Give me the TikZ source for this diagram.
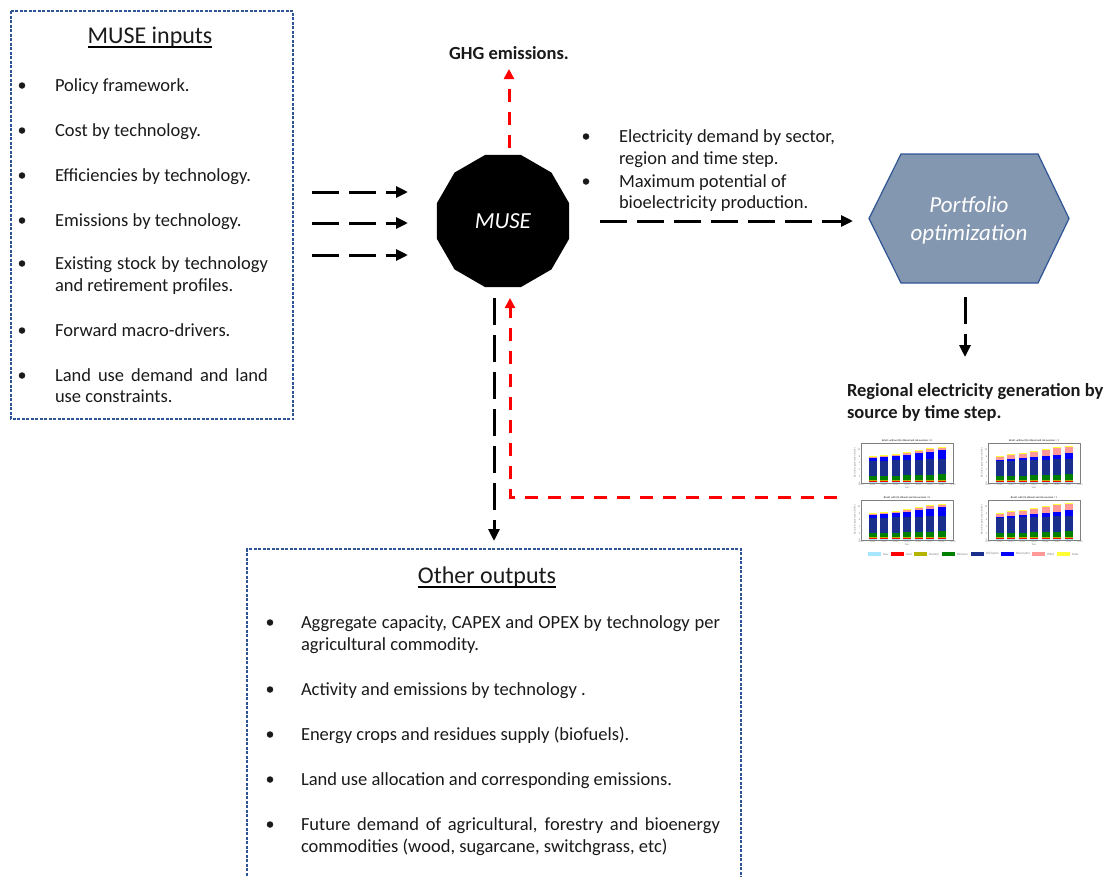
\documentclass[tikz,border=0pt]{standalone}
\usepackage{fontspec}
\setmainfont{Carlito}
\usetikzlibrary{arrows.meta,calc,shapes.geometric}
\definecolor{boxblue}{HTML}{2F5597}
\definecolor{hexfill}{HTML}{8497B0}
\definecolor{txt}{HTML}{1A1A1A}
\definecolor{cgas}{HTML}{A6E6FF}
\definecolor{ccoal}{HTML}{FF0000}
\definecolor{cnuc}{HTML}{B3B300}
\definecolor{cbio}{HTML}{008000}
\definecolor{cold}{HTML}{1A2E8C}
\definecolor{cnew}{HTML}{0000FF}
\definecolor{cwind}{HTML}{FF9999}
\definecolor{csolar}{HTML}{FFFF33}
\newcommand\fs{\fontsize{18.5pt}{22pt}\selectfont}
\newcommand\fst{\fontsize{24pt}{28pt}\selectfont}
\newcommand\fsl{\fontsize{23pt}{28pt}\selectfont}
\newcommand\fsc{\fontsize{3.2pt}{3.6pt}\selectfont}
\newcommand\fsct{\fontsize{2.6pt}{3pt}\selectfont}
\newcommand\stackbar[4]{%
 \pgfmathsetmacro\sbA{0.3*3.333}%
 \pgfmathsetmacro\sbB{\sbA+0.5*3.333}%
 \pgfmathsetmacro\sbC{\sbB+0.25*3.333}%
 \pgfmathsetmacro\sbD{\sbC+#2*3.333}%
 \pgfmathsetmacro\sbE{\sbD+4.6*3.333}%
 \pgfmathsetmacro\sbF{\sbE+#3*3.333}%
 \pgfmathsetmacro\sbG{\sbF+#4*3.333}%
 \pgfmathsetmacro\sbH{\sbG+0.15*3.333}%
 \pgfmathsetmacro\sbL{#1-4}\pgfmathsetmacro\sbR{#1+4}%
 \fill[cgas] (\sbL,0) rectangle (\sbR,\sbA);
 \fill[ccoal] (\sbL,\sbA) rectangle (\sbR,\sbB);
 \fill[cnuc] (\sbL,\sbB) rectangle (\sbR,\sbC);
 \fill[cbio] (\sbL,\sbC) rectangle (\sbR,\sbD);
 \fill[cold] (\sbL,\sbD) rectangle (\sbR,\sbE);
 \fill[cnew] (\sbL,\sbE) rectangle (\sbR,\sbF);
 \fill[cwind] (\sbL,\sbF) rectangle (\sbR,\sbG);
 \fill[csolar] (\sbL,\sbG) rectangle (\sbR,\sbH);
}
\newcommand\chartpanel[4]{%
 \begin{scope}[shift={(#1,#2)}, yscale=-1]
  \ifnum#4=0
   \foreach \k/\bio/\nh/\wd in {0/1.0/0.8/0.4,1/1.1/1.1/0.5,2/1.2/1.3/0.5,3/1.3/1.6/0.6,4/1.4/1.9/0.7,5/1.5/2.3/0.8,6/1.6/2.6/0.9}
    {\stackbar{11.5+11.5*\k}{\bio}{\nh}{\wd}}
  \else
   \foreach \k/\bio/\nh/\wd in {0/1.0/0.3/1.0,1/1.1/0.5/1.3,2/1.2/0.6/1.5,3/1.3/0.8/1.6,4/1.4/1.1/1.8,5/1.5/1.4/2.0,6/1.6/1.7/2.1}
    {\stackbar{11.5+11.5*\k}{\bio}{\nh}{\wd}}
  \fi
  \draw[gray, line width=0.3pt] (0,0) rectangle (92,40);
  \foreach \yy [count=\j from 0] in {2015,2020,2025,2030,2035,2040,2045,2050,2055}
   \node[font=\fsct, text=gray, anchor=north] at (11.5*\j,-0.8) {\yy};
  \foreach \v [count=\j from 0] in {0,2,4,6,8,10}
   \node[font=\fsct, text=gray, anchor=east] at (-0.8,3.333*2*\j) {\v};
  \node[font=\fsct, text=gray, anchor=north] at (46,-4) {Year};
  \node[font=\fsct, text=gray, rotate=90, anchor=south] at (-5,20) {Electricity generation (GWh)};
  \node[font=\fsct, text=black, anchor=south] at (46,40.8) {#3};
 \end{scope}}
\begin{document}
\begin{tikzpicture}[x=1pt,y=-1pt,
 every node/.style={inner sep=0pt, outer sep=0pt, text=txt},
 tx/.style={font=\fs, anchor=base west},
 bul/.style={circle, fill=txt, minimum size=6.5pt},
 blkarrow/.style={line width=3pt, dash pattern=on 27pt off 10pt, -{Triangle[length=12pt,width=11pt]}},
 redarrow/.style={line width=3pt, red, dash pattern=on 13pt off 10pt, -{Triangle[length=10pt,width=10pt]}},
 dotbox/.style={boxblue, line width=1.2pt, dash pattern=on 3pt off 1.5pt}
]
\useasboundingbox (0,0) rectangle (1107,876);
\fill[white] (0,0) rectangle (1107,876);

% ---------- MUSE inputs box ----------
\draw[dotbox] (11,11) rectangle (293,419);
\node[font=\fst, anchor=base] (tin) at (150,43) {MUSE inputs};
\draw[line width=1.2pt] ($(tin.base west)+(0,4)$) -- ($(tin.base east)+(0,4)$);
\foreach \y [count=\k] in {91,136,181,226,269,336,381}
 \node[bul] (lb\k) at (22,\y-5.5) {};
\node[tx] (li1) at (55,91) {Policy framework.};
\node[tx] (li2) at (55,136) {Cost by technology.};
\node[tx] (li3) at (55,181) {Efficiencies by technology.};
\node[tx] (li4) at (55,226) {Emissions by technology.};
\node[tx] (li5) at (55,269) {\makebox[213pt][s]{Existing stock by technology}};
\node[tx] (li6) at (55,291) {and retirement profiles.};
\node[tx] (li7) at (55,336) {Forward macro-drivers.};
\node[tx] (li8) at (55,381) {\makebox[213pt][s]{Land use demand and land}};
\node[tx] (li9) at (55,402) {use constraints.};

% ---------- input arrows ----------
\foreach \y [count=\k] in {192,223,255}{
 \coordinate (ia\k) at (312,\y);
 \coordinate (ib\k) at (408,\y);
 \draw[blkarrow] (ia\k) -- (ib\k);
}

% ---------- MUSE ----------
\node[regular polygon, regular polygon sides=12, minimum size=137pt, fill=black,
      font=\fsl, text=white] (muse) at (503,221) {\textit{MUSE}};

% ---------- GHG ----------
\node[font=\fs\bfseries, anchor=base] (ghg) at (509,59) {GHG emissions.};
\coordinate (ghgs) at (509,148);
\coordinate (ghgt) at (509,69);
\draw[redarrow] (ghgs) -- (ghgt);

% ---------- electricity text ----------
\node[bul] (rb1) at (586,136.5) {};
\node[bul] (rb2) at (586,181.5) {};
\node[tx] (ri1) at (619,142) {Electricity demand by sector,};
\node[tx] (ri2) at (619,164) {region and time step.};
\node[tx] (ri3) at (619,187) {Maximum potential of};
\node[tx] (ri4) at (619,208) {bioelectricity production.};

% ---------- Portfolio optimization ----------
\node[minimum width=200pt, minimum height=129pt] (port) at (969,218.5) {};
\draw[fill=hexfill, draw=boxblue, line width=1.2pt]
 (port.west) -- ($(port.north west)+(32,0)$) -- ($(port.north east)+(-31,0)$)
 -- (port.east) -- ($(port.south east)+(-31,0)$) -- ($(port.south west)+(32,0)$) -- cycle;
\node[font=\fsl, text=white, align=center] (porttxt) at (969,220) {\textit{Portfolio}\\\textit{optimization}};

\coordinate (ma) at (600,221);
\coordinate (mb) at (853,221);
\draw[blkarrow] (ma) -- (mb);

\coordinate (pd) at (965,297);
\coordinate (pe) at (965,357);
\draw[blkarrow] (pd) -- (pe);

% ---------- regional generation ----------
\node[font=\fs\bfseries, anchor=base west] (reg1) at (847,396) {Regional electricity generation by};
\node[font=\fs\bfseries, anchor=base west] (reg2) at (847,418) {source by time step.};

\chartpanel{861}{483}{Brazil: without (S) ethanol and risk aversion = 0}{0}
\chartpanel{988}{483}{Brazil: without (S) ethanol and risk aversion = 1}{1}
\chartpanel{861}{540}{Brazil: with (S) ethanol and risk aversion = 0}{0}
\chartpanel{988}{540}{Brazil: with (S) ethanol and risk aversion = 1}{1}
\foreach \xx/\cc/\lab in {868/cgas/Gas,891/ccoal/Coal,914/cnuc/Nuclear,942/cbio/Biomass,971/cold/Old hydro,1001/cnew/New hydro,1032/cwind/Wind,1057/csolar/Solar}{
 \fill[\cc] (\xx,552) rectangle ++(13,4);
 \node[font=\fsc, text=gray, anchor=west] at (\xx+15,554) {\lab};
}

% ---------- feedback arrows ----------
\coordinate (fbA) at (837,497);
\coordinate (fbB) at (510,497);
\coordinate (fbC) at (510,298);
\draw[redarrow] (fbA) -- (fbB) -- (fbC);
\coordinate (da) at (494,298);
\coordinate (db) at (494,541);
\draw[blkarrow] (da) -- (db);

% ---------- Other outputs box ----------
\draw[dotbox] (247,880) -- (247,549) -- (741,549) -- (741,880);
\node[font=\fst, anchor=base] (tout) at (487,583) {Other outputs};
\draw[line width=1.2pt] ($(tout.base west)+(0,4)$) -- ($(tout.base east)+(0,4)$);
\foreach \y [count=\k] in {628,695,740,785,830}
 \node[bul] (ob\k) at (270,\y-5.5) {};
\node[tx] (oi1) at (301,628) {\makebox[419pt][s]{Aggregate capacity, CAPEX and OPEX by technology per}};
\node[tx] (oi2) at (301,650) {agricultural commodity.};
\node[tx] (oi3) at (301,695) {Activity and emissions by technology .};
\node[tx] (oi4) at (301,740) {Energy crops and residues supply (biofuels).};
\node[tx] (oi5) at (301,785) {Land use allocation and corresponding emissions.};
\node[tx] (oi6) at (301,830) {\makebox[419pt][s]{Future demand of agricultural, forestry and bioenergy}};
\node[tx] (oi7) at (301,852) {commodities (wood, sugarcane, switchgrass, etc)};
\end{tikzpicture}
\end{document}
